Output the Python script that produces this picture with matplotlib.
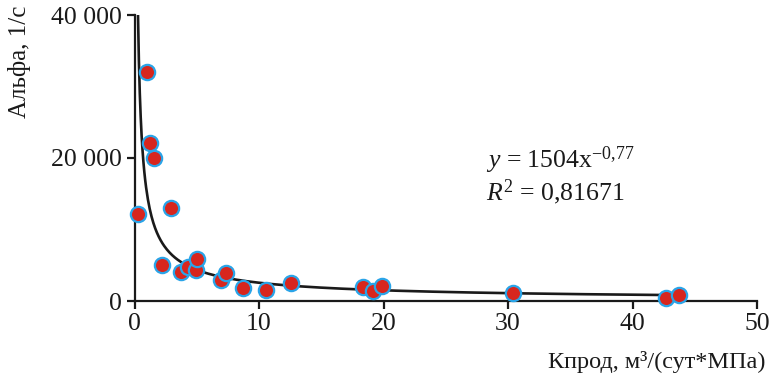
import numpy as np
import matplotlib
matplotlib.use("Agg")
import matplotlib.pyplot as plt

plt.rcParams['font.family'] = ['Liberation Serif', 'DejaVu Serif']
plt.rcParams['mathtext.fontset'] = 'custom'
plt.rcParams['mathtext.rm'] = 'Liberation Serif'
plt.rcParams['mathtext.it'] = 'Liberation Serif:italic'

# data
kprod = [0.27, 0.99, 1.24, 1.56, 2.2, 2.93, 3.73, 4.3, 4.94, 5.0, 6.95, 7.35,
         8.72, 10.6, 12.55, 18.35, 19.15, 19.87, 30.4, 42.7, 43.7]
alpha = [12200, 32000, 22100, 20000, 5000, 13000, 4000, 4750, 4350, 5850, 2950, 3900,
         1850, 1550, 2500, 1950, 1450, 2100, 1150, 450, 850]

# trend line as drawn (power law)
trend_a = 15040
trend_b = -0.77
trend_x = np.linspace(0.28, 43.7, 600)

x_ticks = [0, 10, 20, 30, 40, 50]
y_ticks = [0, 20000, 40000]
y_tick_labels = ["0", "20 000", "40 000"]

fig = plt.figure(figsize=(7.7, 3.84), dpi=100)
ax = fig.add_axes([134.5/770, 1-301/384, (757-134.5)/770, (301-15)/384])

ax.plot(trend_x, trend_a * trend_x ** trend_b, color='#1a1a1a', lw=1.9, zorder=2)
ax.plot(kprod, alpha, 'o', ms=11, mfc='#d7261e', mec='#2aa4e8', mew=1.6, zorder=3,
        clip_on=False)

ax.set_xlim(0, 50)
ax.set_ylim(0, 40000)
ax.set_xticks(x_ticks)
ax.set_xticklabels([str(t) for t in x_ticks])
ax.set_yticks(y_ticks)
ax.set_yticklabels(y_tick_labels)
for s in ['top', 'right']:
    ax.spines[s].set_visible(False)
for s in ['left', 'bottom']:
    ax.spines[s].set_linewidth(1.6)
    ax.spines[s].set_color('#1a1a1a')
ax.tick_params(direction='out', length=6, width=1.6, labelsize=18.5, colors='#1a1a1a',
               pad=3)

fig.text(20/770, 1-62/384, "Альфа, 1/с", rotation=90, ha='center', va='center',
         fontsize=18, color='#1a1a1a')
fig.text(766/770, 1-362/384, "Кпрод, м³/(сут*МПа)", ha='right', va='center',
         fontsize=17.5, color='#1a1a1a')

ax.text(486/770, 1-160/384, r"$\mathit{y}$ = 1504x$^{\mathrm{-0{,}77}}$",
        transform=fig.transFigure, ha='left', va='center', fontsize=18.5, color='#1a1a1a')
ax.text(486/770, 1-192/384, r"$\mathit{R}^{\mathrm{2}}$ = 0,81671",
        transform=fig.transFigure, ha='left', va='center', fontsize=18.5, color='#1a1a1a')

fig.savefig("out.png", dpi=100)
